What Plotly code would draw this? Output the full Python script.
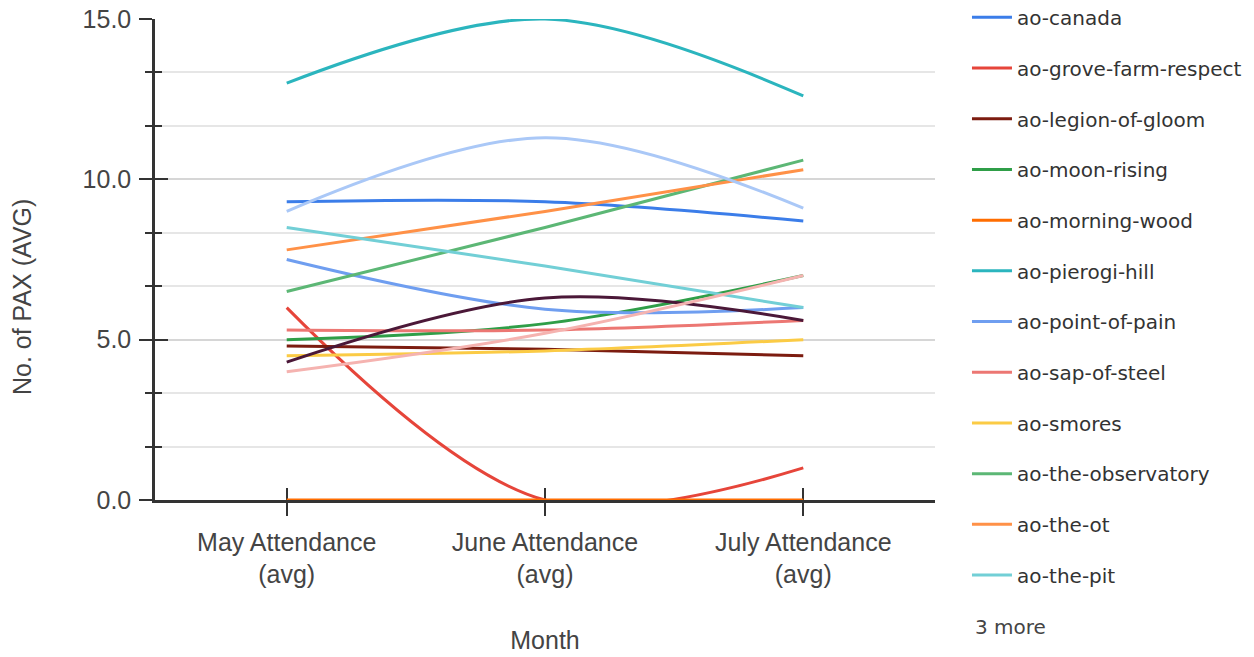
import plotly.graph_objects as go

months = ["May Attendance<br>(avg)", "June Attendance<br>(avg)", "July Attendance<br>(avg)"]

series_names = [
    "ao-canada", "ao-grove-farm-respect", "ao-legion-of-gloom", "ao-moon-rising",
    "ao-morning-wood", "ao-pierogi-hill", "ao-point-of-pain", "ao-sap-of-steel",
    "ao-smores", "ao-the-observatory", "ao-the-ot", "ao-the-pit",
    "other-1", "other-2", "other-3",
]

ao_canada = [9.3, 9.3, 8.7]
ao_grove_farm_respect = [6.0, 0.0, 1.0]
ao_legion_of_gloom = [4.8, 4.7, 4.5]
ao_moon_rising = [5.0, 5.5, 7.0]
ao_morning_wood = [0.0, 0.0, 0.0]
ao_pierogi_hill = [13.0, 15.0, 12.6]
ao_point_of_pain = [7.5, 5.95, 6.0]
ao_sap_of_steel = [5.3, 5.3, 5.6]
ao_smores = [4.5, 4.65, 5.0]
ao_the_observatory = [6.5, 8.5, 10.6]
ao_the_ot = [7.8, 9.0, 10.3]
ao_the_pit = [8.5, 7.3, 6.0]
other_1 = [9.0, 11.3, 9.1]
other_2 = [4.3, 6.3, 5.6]
other_3 = [4.0, 5.2, 7.0]

series_values = [
    ao_canada, ao_grove_farm_respect, ao_legion_of_gloom, ao_moon_rising,
    ao_morning_wood, ao_pierogi_hill, ao_point_of_pain, ao_sap_of_steel,
    ao_smores, ao_the_observatory, ao_the_ot, ao_the_pit,
    other_1, other_2, other_3,
]

colors = [
    "#3b7de9", "#e6453a", "#7c1c10", "#2f9e48",
    "#ff6d00", "#2bb5be", "#6f9ef0", "#ec7773",
    "#fbcb45", "#5cb775", "#ff9147", "#72cfd6",
    "#aac8f7", "#4b1838", "#f5b3b0",
]

y_major = [0, 5, 10, 15]
y_major_text = ["0.0", "5.0", "10.0", "15.0"]

fig = go.Figure()
for i, (name, vals, col) in enumerate(zip(series_names, series_values, colors)):
    fig.add_trace(go.Scatter(
        x=months, y=vals, name=name, mode="lines",
        line=dict(color=col, width=3, shape="spline", smoothing=1.0),
        legendgroup=name, showlegend=(i < 12),
    ))

# empty helper trace so the overlay axes (crossing tick marks) are drawn
fig.add_trace(go.Scatter(x=[], y=[], xaxis="x2", yaxis="y2", showlegend=False,
                         hoverinfo="skip"))

axis_font = dict(family="Liberation Sans, Arial, sans-serif", size=25, color="#444444")

fig.update_layout(
    width=1254, height=657,
    margin=dict(l=155, r=319, t=19, b=157, autoexpand=False),
    plot_bgcolor="white", paper_bgcolor="white",
    showlegend=True,
    legend=dict(
        x=1.041, xanchor="left", y=1.044, yanchor="top",
        font=dict(family="DejaVu Sans, sans-serif", size=20, color="#333333"),
        traceorder="grouped", tracegroupgap=21.7, itemwidth=40,
        bgcolor="rgba(0,0,0,0)", maxheight=650,
    ),
    xaxis=dict(
        type="category", range=[-0.51, 2.51],
        showline=True, linecolor="#333333", linewidth=2.5,
        ticks="outside", ticklen=13, tickwidth=2, tickcolor="#333333",
        tickfont=axis_font, showgrid=False, zeroline=False,
        ticklabelstandoff=5, ticklabeloverflow="allow",
        layer="below traces",
        title=dict(text="Month", font=axis_font, standoff=45),
    ),
    yaxis=dict(
        range=[0, 15], tickvals=y_major, ticktext=y_major_text,
        showline=True, linecolor="#333333", linewidth=2.5,
        ticks="outside", ticklen=13, tickwidth=2, tickcolor="#333333",
        tickfont=axis_font, ticklabelstandoff=3, ticklabeloverflow="allow",
        showgrid=True, gridcolor="#d6d6d6", gridwidth=1.5,
        zeroline=False, layer="below traces",
        minor=dict(dtick=5/3, tick0=0, ticks="outside", ticklen=7, tickwidth=2,
                   tickcolor="#333333", showgrid=True, gridcolor="#e6e6e6", gridwidth=1.5),
    ),
    xaxis2=dict(
        overlaying="x", anchor="y2", range=[-0.51, 2.51], type="linear",
        tickvals=[0, 1, 2], ticks="inside", ticklen=12, tickwidth=2, tickcolor="#333333",
        showticklabels=False, showgrid=False, showline=False, zeroline=False,
        layer="below traces",
    ),
    yaxis2=dict(
        overlaying="y", anchor="x2", range=[0, 15], side="left",
        tickvals=y_major, ticks="inside", ticklen=13, tickwidth=2, tickcolor="#333333",
        showticklabels=False, showgrid=False, showline=False, zeroline=False,
        minor=dict(dtick=5/3, tick0=0, ticks="inside", ticklen=7, tickwidth=2,
                   tickcolor="#333333", showgrid=False),
        layer="below traces",
    ),
    annotations=[
        dict(text="No. of PAX (AVG)", textangle=-90, x=-0.1705, y=0.422,
             xref="paper", yref="paper", showarrow=False, font=axis_font,
             xanchor="center", yanchor="middle"),
        dict(text="3 more", x=1.0487, y=(500 - 627) / 481, xref="paper", yref="paper",
             showarrow=False, xanchor="left", yanchor="middle",
             font=dict(family="DejaVu Sans, sans-serif", size=20, color="#444444")),
    ],
)

fig.write_html("out.html",
               config={"displayModeBar": False},
               post_script="document.body.style.margin='0';document.body.style.padding='0';")
